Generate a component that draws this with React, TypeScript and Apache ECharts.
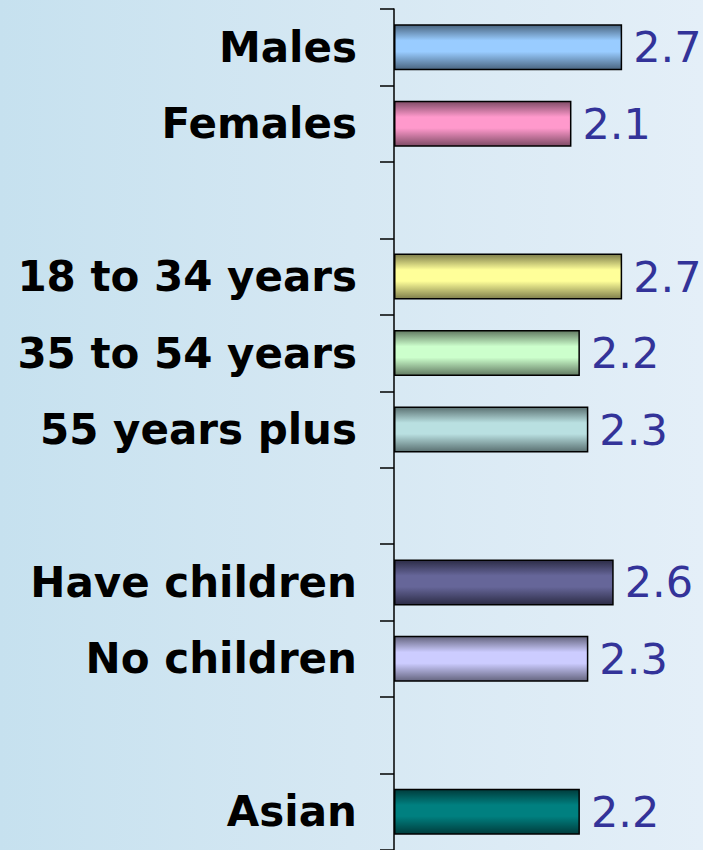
import React, { useEffect, useRef } from "react";
import * as echarts from "echarts";

const categories = [
  "Males",
  "Females",
  "",
  "18 to 34 years",
  "35 to 54 years",
  "55 years plus",
  "",
  "Have children",
  "No children",
  "",
  "Asian",
];
const values: (number | null)[] = [2.7, 2.1, null, 2.7, 2.2, 2.3, null, 2.6, 2.3, null, 2.2];
const lightColors: (string | null)[] = [
  "#99ccff",
  "#ff99cc",
  null,
  "#ffff99",
  "#ccffcc",
  "#b9e0e1",
  null,
  "#666699",
  "#ccccff",
  null,
  "#008080",
];
const darkColors: (string | null)[] = [
  "#4a6580",
  "#7f4c66",
  null,
  "#7f7f4c",
  "#627a62",
  "#5a7071",
  null,
  "#2c2c46",
  "#64647e",
  null,
  "#003c3c",
];

export default function App() {
  const ref = useRef<HTMLDivElement>(null);

  useEffect(() => {
    if (!ref.current) return;
    const chart = echarts.init(ref.current, null, { renderer: "svg" });
    const data = values.map((v, i) => {
      if (v === null) return { value: null };
      const light = lightColors[i] as string;
      const dark = darkColors[i] as string;
      return {
        value: v,
        itemStyle: {
          color: new echarts.graphic.LinearGradient(0, 0, 0, 1, [
            { offset: 0, color: dark },
            { offset: 0.35, color: light },
            { offset: 0.6, color: light },
            { offset: 1, color: dark },
          ]),
        },
      };
    });
    chart.setOption({
      animation: false,
      backgroundColor: "transparent",
      grid: { left: 394, top: 9, width: 253.5, height: 844, containLabel: false },
      xAxis: {
        type: "value",
        min: 0,
        max: 3,
        show: false,
        splitLine: { show: false },
      },
      yAxis: {
        type: "category",
        inverse: true,
        data: categories,
        axisLine: { show: true, lineStyle: { color: "#000", width: 1.5 } },
        axisTick: { show: true, length: 14, lineStyle: { color: "#000", width: 1.5 } },
        axisLabel: {
          margin: 37,
          color: "#000",
          fontSize: 42,
          fontWeight: "bold",
          fontFamily: "DejaVu Sans",
          padding: [4, 0, 0, 0],
        },
        splitLine: { show: false },
      },
      series: [
        {
          type: "bar",
          data,
          barWidth: 46,
          itemStyle: { borderColor: "#000", borderWidth: 1.5 },
          label: {
            show: true,
            position: "right",
            distance: 11,
            color: "#333399",
            fontSize: 43,
            fontFamily: "DejaVu Sans",
            formatter: (p: any) => (p.value == null ? "" : Number(p.value).toFixed(1)),
          },
        },
      ],
    });
    return () => chart.dispose();
  }, []);

  return (
    <div
      style={{
        position: "absolute",
        left: 0,
        top: 0,
        width: 703,
        height: 850,
        background: "linear-gradient(to right, #c6e1ef 0%, #d6e8f3 50%, #e4eff8 100%)",
      }}
    >
      <div ref={ref} style={{ width: 703, height: 850 }} />
    </div>
  );
}
